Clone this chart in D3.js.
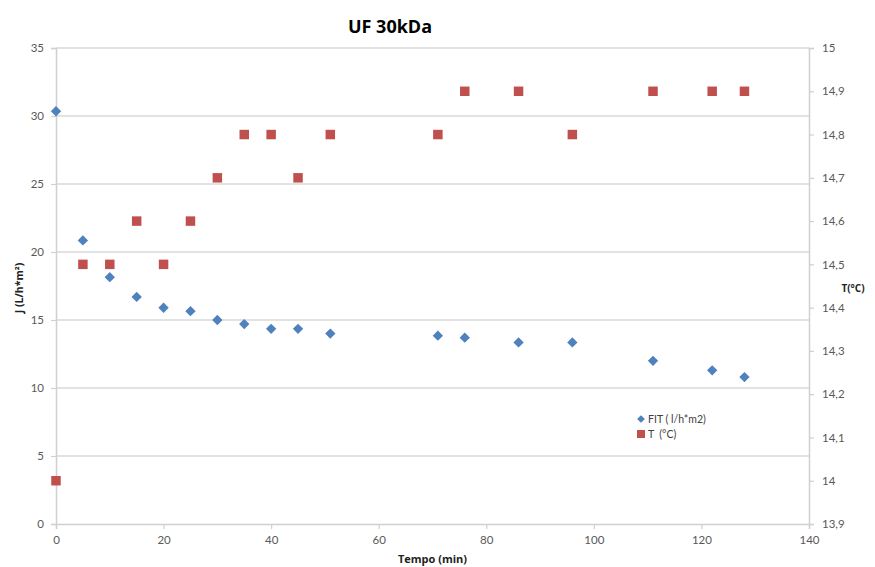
<!DOCTYPE html>
<html>
<head>
<meta charset="utf-8">
<script src="https://cdn.jsdelivr.net/npm/d3@7"></script>
<style>
  body { margin: 0; background: #fff; }
  text { font-family: Lato, "Open Sans", sans-serif; }
</style>
</head>
<body>
<div id="chart"></div>
<script>
// data
var tempo = [0, 5, 10, 15, 20, 25, 30, 35, 40, 45, 51, 71, 76, 86, 96, 111, 122, 128];
var fit = [30.35, 20.85, 18.15, 16.7, 15.9, 15.65, 15.0, 14.7, 14.35, 14.35, 14.0, 13.85, 13.7, 13.35, 13.35, 12.0, 11.3, 10.8];
var temp = [14.0, 14.5, 14.5, 14.6, 14.5, 14.6, 14.7, 14.8, 14.8, 14.7, 14.8, 14.8, 14.9, 14.9, 14.8, 14.9, 14.9, 14.9];

var xTicks = [0, 20, 40, 60, 80, 100, 120, 140];
var yTicks = [0, 5, 10, 15, 20, 25, 30, 35];
var tTicks = [13.9, 14.0, 14.1, 14.2, 14.3, 14.4, 14.5, 14.6, 14.7, 14.8, 14.9, 15.0];

var width = 875, height = 567;
var margin = {top: 48, right: 66, bottom: 43, left: 56};

var svg = d3.select("#chart").append("svg")
  .attr("width", width)
  .attr("height", height);

var xScale = d3.scaleLinear().domain([0, 140]).range([margin.left, width - margin.right]);
var yScale = d3.scaleLinear().domain([0, 35]).range([height - margin.bottom, margin.top]);
var tScale = d3.scaleLinear().domain([13.9, 15]).range([height - margin.bottom, margin.top]);

function comma(v) {
  return (Math.round(v * 10) / 10).toString().replace(".", ",");
}

// gridlines (left axis)
svg.append("g")
  .selectAll("line")
  .data(yTicks.slice(1))
  .enter().append("line")
    .attr("x1", xScale(0))
    .attr("x2", xScale(140))
    .attr("y1", function(d) { return yScale(d); })
    .attr("y2", function(d) { return yScale(d); })
    .attr("stroke", "#d9d9d9")
    .attr("stroke-width", 1.5);

var xAxis = svg.append("g")
  .attr("transform", "translate(0," + (height - margin.bottom) + ")")
  .call(d3.axisBottom(xScale).tickValues(xTicks).tickSizeOuter(0).tickSize(5).tickPadding(7));

var yAxis = svg.append("g")
  .attr("transform", "translate(" + margin.left + ",0)")
  .call(d3.axisLeft(yScale).tickValues(yTicks).tickSizeOuter(0).tickSize(5).tickPadding(7));

var tAxis = svg.append("g")
  .attr("transform", "translate(" + (width - margin.right) + ",0)")
  .call(d3.axisRight(tScale).tickValues(tTicks).tickFormat(comma).tickSizeOuter(0).tickSize(5).tickPadding(8));

[xAxis, yAxis, tAxis].forEach(function(a) {
  a.select(".domain").attr("stroke", "#d0d0d0").attr("stroke-width", 1.5);
  a.selectAll(".tick line").attr("stroke", "#d0d0d0").attr("stroke-width", 1.2);
  a.selectAll(".tick text")
    .attr("fill", "#595959")
    .style("font-size", "11.5px")
    .style("font-family", "Lato, sans-serif");
});

// series
var pts = tempo.map(function(t, i) { return {x: t, fit: fit[i], temp: temp[i]}; });

svg.append("g")
  .selectAll("path")
  .data(pts)
  .enter().append("path")
    .attr("d", d3.symbol().type(d3.symbolSquare).size(90))
    .attr("transform", function(d) { return "translate(" + xScale(d.x) + "," + tScale(d.temp) + ")"; })
    .attr("fill", "#c0504d");

svg.append("g")
  .selectAll("path")
  .data(pts)
  .enter().append("path")
    .attr("d", d3.symbol().type(d3.symbolDiamond2).size(68))
    .attr("transform", function(d) { return "translate(" + xScale(d.x) + "," + yScale(d.fit) + ")"; })
    .attr("fill", "#4f81bd");

// title and labels
svg.append("text")
  .attr("x", 390)
  .attr("y", 33)
  .attr("text-anchor", "middle")
  .style("font-size", "18px")
  .style("font-family", "'Open Sans', sans-serif")
  .style("font-weight", "bold")
  .attr("fill", "#000")
  .text("UF 30kDa");

svg.append("text")
  .attr("x", xScale(70))
  .attr("y", 563)
  .attr("text-anchor", "middle")
  .style("font-size", "11px")
  .style("font-family", "'Open Sans', sans-serif")
  .style("font-weight", "bold")
  .attr("fill", "#222")
  .text("Tempo (min)");

svg.append("text")
  .attr("transform", "translate(23,288) rotate(-90)")
  .attr("text-anchor", "middle")
  .style("font-size", "10.5px")
  .style("font-family", "'Open Sans', sans-serif")
  .style("font-weight", "bold")
  .attr("fill", "#222")
  .text("J (L/h*m²)");

svg.append("text")
  .attr("x", 853)
  .attr("y", 292)
  .attr("text-anchor", "middle")
  .style("font-size", "10px")
  .style("font-family", "'Open Sans', sans-serif")
  .style("font-weight", "bold")
  .attr("fill", "#222")
  .text("T(°C)");

// legend
var legend = svg.append("g").attr("transform", "translate(641,419)");
legend.append("path")
  .attr("d", d3.symbol().type(d3.symbolDiamond2).size(38))
  .attr("fill", "#4f81bd");
legend.append("text")
  .attr("x", 7).attr("y", 4)
  .style("font-size", "10.5px")
  .attr("fill", "#404040")
  .text("FIT ( l/h*m2)");
legend.append("path")
  .attr("d", d3.symbol().type(d3.symbolSquare).size(64))
  .attr("transform", "translate(0,15)")
  .attr("fill", "#c0504d");
legend.append("text")
  .attr("x", 7).attr("y", 19)
  .style("font-size", "10.5px")
  .attr("fill", "#404040")
  .attr("xml:space", "preserve")
  .text("T  (°C)");
</script>
</body>
</html>
